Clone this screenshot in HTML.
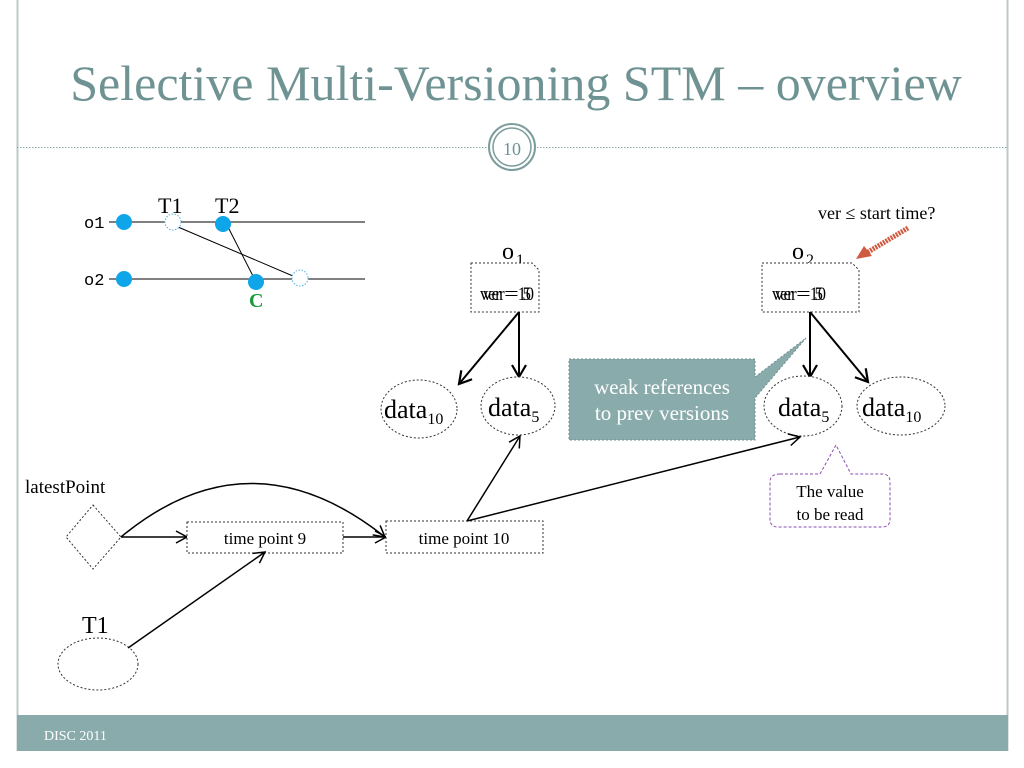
<!DOCTYPE html>
<html><head><meta charset="utf-8"><style>
html,body{margin:0;padding:0;background:#fff}
svg{display:block}
text{font-family:"Liberation Serif",serif}
</style></head><body>
<svg width="1024" height="768" viewBox="0 0 1024 768" xmlns="http://www.w3.org/2000/svg">
<defs>
<marker id="ar" markerWidth="14" markerHeight="14" refX="12" refY="7" orient="auto" markerUnits="userSpaceOnUse">
<path d="M1,1 L12,7 L1,13" fill="none" stroke="#000" stroke-width="1.5"/></marker>
<marker id="arb" markerWidth="16" markerHeight="16" refX="13" refY="8" orient="auto" markerUnits="userSpaceOnUse">
<path d="M1,1 L13,8 L1,15" fill="none" stroke="#000" stroke-width="2.2"/></marker>
</defs>
<line x1="17.5" y1="0" x2="17.5" y2="751" stroke="#bcc9c9" stroke-width="2"/>
<line x1="1007.5" y1="0" x2="1007.5" y2="751" stroke="#bcc9c9" stroke-width="2"/>
<rect x="17" y="715" width="991" height="36" fill="#8aabab"/>
<text x="44" y="740" font-size="14" fill="#fff">DISC 2011</text>
<text x="516" y="100" font-size="50" fill="#6f9393" text-anchor="middle">Selective Multi-Versioning STM – overview</text>
<line x1="17" y1="147.5" x2="488" y2="147.5" stroke="#8aabab" stroke-dasharray="1.5,1.5"/>
<line x1="537" y1="147.5" x2="1007" y2="147.5" stroke="#8aabab" stroke-dasharray="1.5,1.5"/>
<circle cx="512" cy="147" r="23" fill="#fff" stroke="#7c9c9c" stroke-width="2"/>
<circle cx="512" cy="147" r="19" fill="none" stroke="#7c9c9c" stroke-width="1.5"/>
<text x="512" y="155" font-size="18" fill="#6f9393" text-anchor="middle">10</text>
<text x="84" y="228" font-size="17" style="font-family:'Liberation Mono',monospace">o1</text>
<text x="84" y="285" font-size="17" style="font-family:'Liberation Mono',monospace">o2</text>
<line x1="109" y1="222" x2="365" y2="222" stroke="#000"/>
<line x1="109" y1="279" x2="365" y2="279" stroke="#000"/>
<line x1="178" y1="227" x2="300" y2="279" stroke="#000"/>
<line x1="228" y1="227" x2="255" y2="280" stroke="#000"/>
<circle cx="124" cy="222" r="8" fill="#0ea5e9"/>
<circle cx="124" cy="279" r="8" fill="#0ea5e9"/>
<circle cx="173" cy="222" r="8" fill="#fff" stroke="#4fb0e0" stroke-dasharray="1.5,1.5"/>
<circle cx="223" cy="224" r="8" fill="#0ea5e9"/>
<circle cx="256" cy="282" r="8" fill="#0ea5e9"/>
<circle cx="300" cy="278" r="8" fill="#fff" stroke="#4fb0e0" stroke-dasharray="1.5,1.5"/>
<text x="158" y="213" font-size="22">T1</text>
<text x="215" y="213" font-size="22">T2</text>
<text x="249" y="307" font-size="20" font-weight="bold" fill="#1a9a3a">C</text>
<!-- O1 -->
<text x="502" y="259" font-size="24">o</text><text x="516" y="265" font-size="16">1</text>
<path d="M471,263 H532 L539,270 V312 H471 Z" fill="#fff" stroke="#333" stroke-dasharray="2,2"/>
<text x="480" y="300" font-size="19" textLength="54" lengthAdjust="spacingAndGlyphs">ver = 10</text>
<text x="483" y="300" font-size="19" textLength="48" lengthAdjust="spacingAndGlyphs">ver = 5</text>
<line x1="519" y1="312" x2="459" y2="384" stroke="#000" stroke-width="2" marker-end="url(#arb)"/>
<line x1="519" y1="312" x2="519" y2="377" stroke="#000" stroke-width="2" marker-end="url(#arb)"/>
<ellipse cx="419" cy="409" rx="38" ry="29" fill="#fff" stroke="#333" stroke-dasharray="2,2"/>
<ellipse cx="518" cy="406" rx="37" ry="29" fill="#fff" stroke="#333" stroke-dasharray="2,2"/>
<text x="384" y="418" font-size="26">data<tspan font-size="16" dy="6">10</tspan></text>
<text x="488" y="416" font-size="26">data<tspan font-size="16" dy="6">5</tspan></text>
<!-- O2 -->
<text x="792" y="259" font-size="24">o</text><text x="806" y="265" font-size="16">2</text>
<path d="M762,263 H852 L859,270 V312 H762 Z" fill="#fff" stroke="#333" stroke-dasharray="2,2"/>
<text x="772" y="300" font-size="19" textLength="54" lengthAdjust="spacingAndGlyphs">ver = 10</text>
<text x="775" y="300" font-size="19" textLength="48" lengthAdjust="spacingAndGlyphs">ver = 5</text>
<line x1="810" y1="312" x2="810" y2="377" stroke="#000" stroke-width="2" marker-end="url(#arb)"/>
<line x1="810" y1="312" x2="868" y2="382" stroke="#000" stroke-width="2" marker-end="url(#arb)"/>
<ellipse cx="803" cy="406" rx="39" ry="30" fill="#fff" stroke="#333" stroke-dasharray="2,2"/>
<ellipse cx="901" cy="406" rx="44" ry="29" fill="#fff" stroke="#333" stroke-dasharray="2,2"/>
<text x="778" y="416" font-size="26">data<tspan font-size="16" dy="6">5</tspan></text>
<text x="862" y="416" font-size="26">data<tspan font-size="16" dy="6">10</tspan></text>
<!-- callout -->
<path d="M569,359 H755 V377 L806,338 L755,398 V440 H569 Z" fill="#8aabab" stroke="#6f8f8f" stroke-dasharray="2,2"/>
<text x="662" y="394" font-size="21" fill="#fff" text-anchor="middle">weak references</text>
<text x="662" y="420" font-size="21" fill="#fff" text-anchor="middle">to prev versions</text>
<text x="818" y="219" font-size="18">ver ≤ start time?</text>
<line x1="908" y1="228" x2="868" y2="252" stroke="#d05a40" stroke-width="5" stroke-dasharray="2,1"/>
<path d="M856,259 L864,246 L872,256 Z" fill="#d05a40"/>
<path d="M780,474 H820 L836,445 L851,474 H882 Q890,474 890,482 V519 Q890,527 882,527 H778 Q770,527 770,519 V482 Q770,474 780,474 Z" fill="#fff" stroke="#8a4fb0" stroke-dasharray="3,2"/>
<text x="830" y="497" font-size="17" text-anchor="middle">The value</text>
<text x="830" y="520" font-size="17" text-anchor="middle">to be read</text>
<text x="25" y="493" font-size="19">latestPoint</text>
<path d="M93,505 L121,537 L93,569 L66,537 Z" fill="#fff" stroke="#333" stroke-dasharray="2,2"/>
<path d="M121,537 Q250,430 385,537" fill="none" stroke="#000" stroke-width="1.5" marker-end="url(#ar)"/>
<line x1="121" y1="537" x2="187" y2="537" stroke="#000" stroke-width="1.5" marker-end="url(#ar)"/>
<rect x="187" y="522" width="156" height="31" fill="#fff" stroke="#333" stroke-dasharray="2,2"/>
<text x="265" y="544" font-size="17" text-anchor="middle">time point 9</text>
<line x1="343" y1="537" x2="386" y2="537" stroke="#000" stroke-width="1.5" marker-end="url(#ar)"/>
<rect x="386" y="521" width="157" height="32" fill="#fff" stroke="#333" stroke-dasharray="2,2"/>
<text x="464" y="544" font-size="17" text-anchor="middle">time point 10</text>
<line x1="467" y1="521" x2="520" y2="436" stroke="#000" stroke-width="1.5" marker-end="url(#ar)"/>
<line x1="467" y1="521" x2="800" y2="437" stroke="#000" stroke-width="1.5" marker-end="url(#ar)"/>
<text x="82" y="633" font-size="24">T1</text>
<ellipse cx="98" cy="664" rx="40" ry="26" fill="#fff" stroke="#333" stroke-dasharray="2,2"/>
<line x1="128" y1="648" x2="265" y2="552" stroke="#000" stroke-width="1.5" marker-end="url(#ar)"/>
</svg>
</body></html>
